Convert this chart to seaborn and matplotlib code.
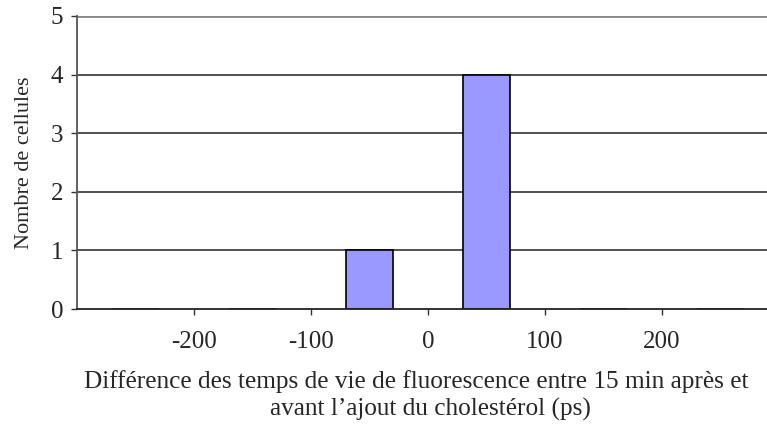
import matplotlib
matplotlib.use("Agg")
import matplotlib.pyplot as plt
import seaborn as sns
import pandas as pd

# histogram classes (centres, ps) and counts
bin_centres = [-250, -150, -50, 50, 150, 250]
counts = [0, 0, 1, 4, 0, 0]
x_ticks = [-200, -100, 0, 100, 200]
x_labels = ['-200', '-100', '0', '100', '200']
y_ticks = [0, 1, 2, 3, 4, 5]
xlabel_lines = ['Différence des temps de vie de fluorescence entre 15 min après et',
                'avant l\u2019ajout du cholestérol (ps)']

sns.set_style("white")
plt.rcParams['font.family'] = ['Liberation Serif', 'DejaVu Serif']

df = pd.DataFrame({'centre': bin_centres, 'n': counts})

W, H = 767, 425
fig = plt.figure(figsize=(W / 100, H / 100), dpi=100)
ax = fig.add_axes([77 / W, 1 - 309 / H, (779 - 77) / W, (309 - 16) / H])

for v in y_ticks[1:-1]:
    ax.axhline(v, color='#333333', lw=1.2, zorder=0)
ax.axhline(5, color='#888888', lw=2, zorder=0)

sns.barplot(data=df, x='centre', y='n', native_scale=True, width=0.4,
            color='#9999FF', edgecolor='black', linewidth=1.2, saturation=1,
            ax=ax, zorder=2)

ax.set_xlim(-300, 300)
ax.set_ylim(0, 5)
ax.set_xticks(x_ticks, x_labels)
ax.set_yticks(y_ticks)
ax.tick_params(axis='both', labelsize=18, length=4, width=1, direction='out',
               color='#333333', bottom=True, left=True)
ax.tick_params(axis='x', pad=12)
ax.tick_params(axis='y', pad=6)

for s in ['top', 'right']:
    ax.spines[s].set_visible(False)
ax.spines['left'].set_color('#555555')
ax.spines['left'].set_linewidth(1.3)
ax.spines['bottom'].set_color('#222222')
ax.spines['bottom'].set_linewidth(1.3)

ax.set_ylabel('Nombre de cellules', fontsize=16, labelpad=12)
ax.set_xlabel('')

# two-line axis title, placed like the original
fig.text(416 / W, 1 - 388 / H, xlabel_lines[0], fontsize=18.2,
         ha='center', va='baseline')
fig.text(430 / W, 1 - 416 / H, xlabel_lines[1], fontsize=18.2,
         ha='center', va='baseline')

fig.savefig('out.png', dpi=100)
